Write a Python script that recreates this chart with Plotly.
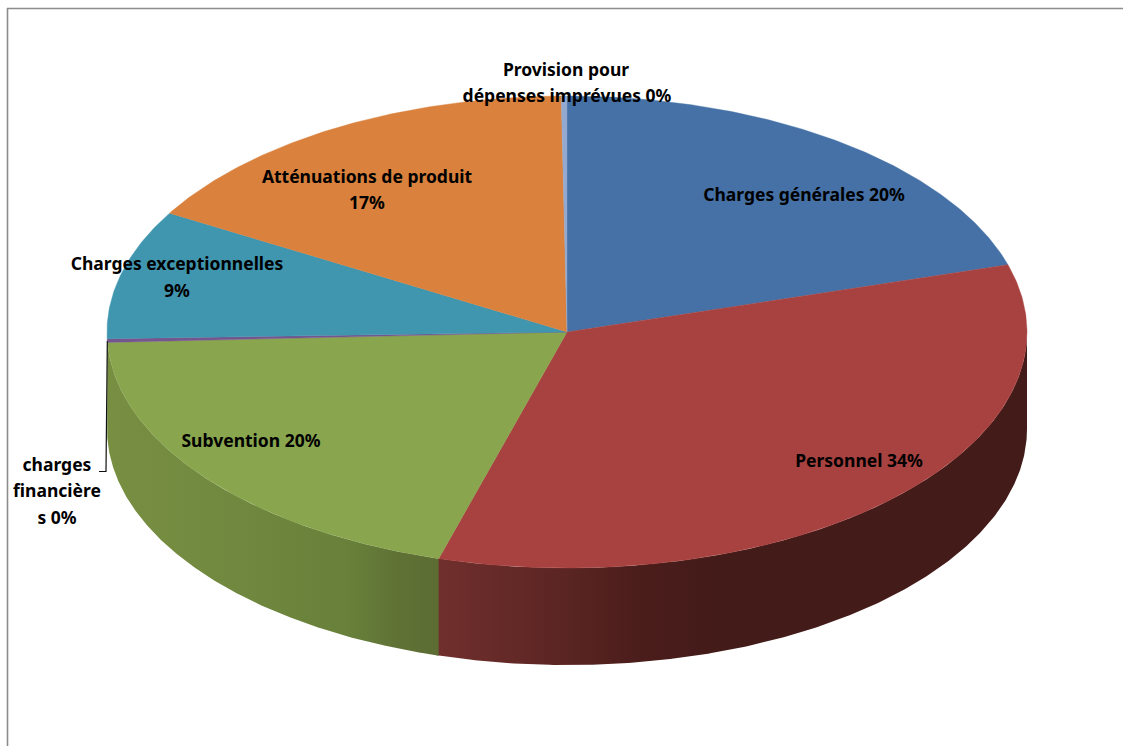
import numpy as np
import plotly.graph_objects as go

# ---- data (percent, clockwise from 12 o'clock) ----
categories = ["Charges générales", "Personnel", "Subvention", "charges financières",
              "Charges exceptionnelles", "Atténuations de produit", "Provision pour dépenses imprévues"]
values = [20.4, 34.1, 19.8, 0.25, 8.85, 16.4, 0.2]
percent_labels = ["20%", "34%", "20%", "0%", "9%", "17%", "0%"]

# ---- styles ----
top_colors = ["#4571A6", "#A84240", "#89A54E", "#75558F", "#4096AF", "#D9813D", "#93A9CF"]
side_gradients = {
    "Personnel": [[0, "#702F2D"], [0.22, "#5A2522"], [0.34, "#4B1D1B"], [0.48, "#431B19"], [1, "#431B19"]],
    "Subvention": [[0, "#788F42"], [0.31, "#728A40"], [0.58, "#6C833C"], [0.73, "#68803A"],
                   [0.88, "#5F7235"], [1, "#5C6C33"]],
}

# ---- geometry of the drawing ----
W, H = 1123, 746
CX, CY, RX, RY, DEPTH = 567.0, 332.0, 460.0, 236.0, 97.0


def ell(a, dy=0.0):
    return CX + RX * np.sin(a), CY - RY * np.cos(a) + dy


fig = go.Figure()
cum = np.concatenate([[0], np.cumsum(values)]) / sum(values) * 2 * np.pi

# side walls (front half only); each runs slightly under the next to avoid a seam
for i, cat in enumerate(categories):
    a0, a1 = max(cum[i], np.pi / 2), min(cum[i + 1] + 0.004, 3 * np.pi / 2)
    if a1 <= a0:
        continue
    t = np.linspace(a0, a1, 240)
    x1, y1 = ell(t)
    x2, y2 = ell(t[::-1], DEPTH)
    xs = np.concatenate([x1, x2, x1[:1]])
    ys = np.concatenate([y1, y2, y1[:1]])
    kw = dict(x=xs, y=ys, mode="lines", fill="toself", hoverinfo="skip", showlegend=False)
    if cat in side_gradients:
        fig.add_trace(go.Scatter(line=dict(width=0), fillcolor="rgba(0,0,0,0)",
                                 fillgradient=dict(type="horizontal", colorscale=side_gradients[cat],
                                                   start=float(xs.min()), stop=float(xs.max())), **kw))
    else:
        fig.add_trace(go.Scatter(line=dict(width=0), fillcolor="#788F42", **kw))

# top faces
for i, cat in enumerate(categories):
    t = np.linspace(cum[i], cum[i + 1], max(4, int(720 * values[i] / 100)))
    x, y = ell(t)
    fig.add_trace(go.Scatter(
        x=np.concatenate([[CX], x, [CX]]), y=np.concatenate([[CY], y, [CY]]),
        mode="lines", fill="toself", fillcolor=top_colors[i],
        line=dict(width=0.4, color=top_colors[i]), hoverinfo="skip", showlegend=False))

# leader line of "charges financières"
fig.add_trace(go.Scatter(x=[107.3, 106, 99], y=[341, 471.5, 471.5], mode="lines",
                         line=dict(color="#111111", width=1.2), hoverinfo="skip", showlegend=False))

# labels, one text per line: (text, centre x, centre y)
label_lines = [
    ("Provision pour", 566, 72),
    ("dépenses imprévues " + percent_labels[6], 567, 98),
    (categories[0] + " " + percent_labels[0], 804, 197),
    (categories[5], 367, 179),
    (percent_labels[5], 367, 205),
    (categories[4], 177, 266),
    (percent_labels[4], 177, 293),
    (categories[2] + " " + percent_labels[2], 251, 443),
    (categories[1] + " " + percent_labels[1], 859, 463),
    ("charges", 57, 467),
    ("financière", 57, 493),
    ("s " + percent_labels[3], 57, 520),
]
fig.add_trace(go.Scatter(
    x=[l[1] for l in label_lines], y=[l[2] for l in label_lines],
    text=["<b>%s</b>" % l[0] for l in label_lines], mode="text", textposition="middle center",
    textfont=dict(family="Noto Sans", size=17.5, color="#000000"),
    hoverinfo="skip", showlegend=False))

# chart frame (only its top and left edges are in view)
frame = [dict(type="line", x0=7.5, x1=7.5, y0=8, y1=H, line=dict(color="#8C8C8C", width=1.6)),
         dict(type="line", x0=7, x1=W, y0=8.5, y1=8.5, line=dict(color="#8C8C8C", width=1.6))]

fig.update_layout(
    width=W, height=H, margin=dict(l=0, r=0, t=0, b=0),
    paper_bgcolor="white", plot_bgcolor="white", showlegend=False, shapes=frame,
    xaxis=dict(range=[0, W], visible=False, fixedrange=True),
    yaxis=dict(range=[H, 0], visible=False, fixedrange=True),
)
fig.write_html("out.html", config={"displayModeBar": False},
               post_script="document.body.style.margin='0';")
